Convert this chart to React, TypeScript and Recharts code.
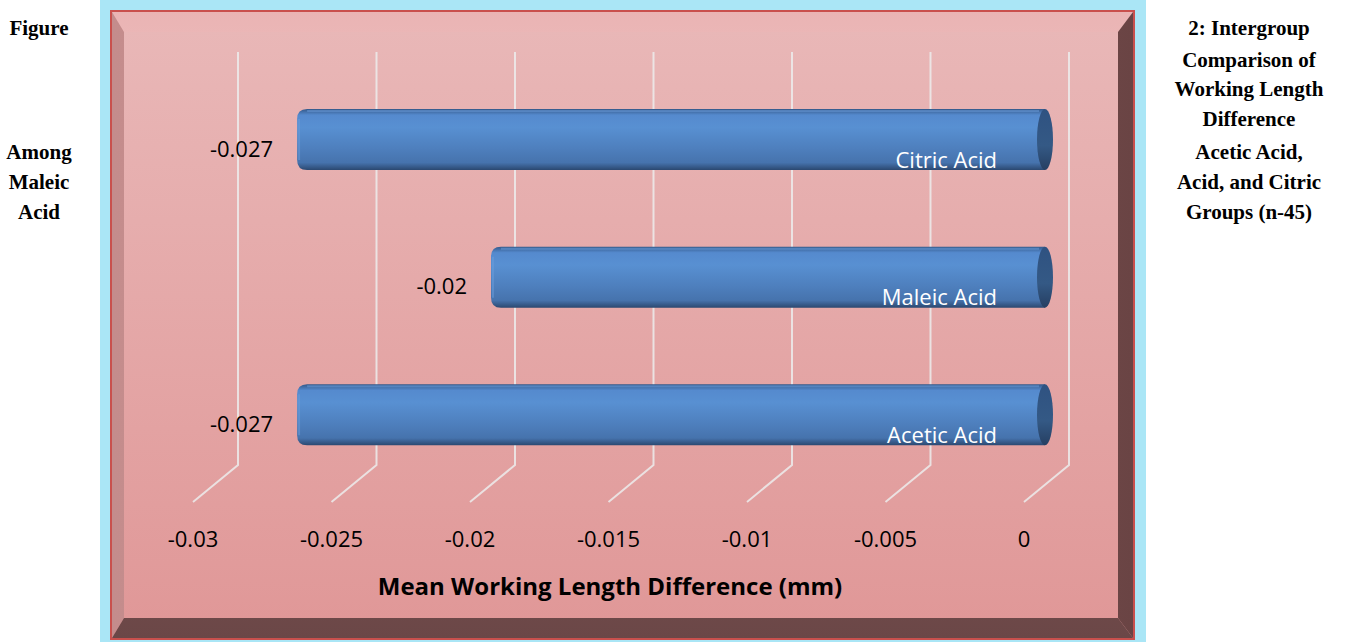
import React from 'react';
import { BarChart, Bar, XAxis, YAxis, CartesianGrid, LabelList } from 'recharts';

// data (top to bottom in the chart)
const categories = ['Citric Acid', 'Maleic Acid', 'Acetic Acid'];
const meanDiff = [-0.027, -0.02, -0.027];
const xTicks = [-0.03, -0.025, -0.02, -0.015, -0.01, -0.005, 0];

const leftCaption = ['Figure', '', '', '', 'Among', 'Maleic', 'Acid'];
const rightCaption = [
  '2: Intergroup',
  'Comparison of',
  'Working Length',
  'Difference',
  'Acetic Acid,',
  'Acid, and Citric',
  'Groups (n-45)',
];
const captionTops = [28, 60, 89, 119, 152, 182, 212];

const data = categories.map((name, i) => ({ name, value: meanDiff[i] }));

const W = 1348;
const H = 642;
const X_AXIS_H = 30;
const M = { top: 71, right: 303, bottom: 128, left: 214 };
const PLOT_BOTTOM = H - M.bottom - X_AXIS_H;
const FONT = '"Open Sans", "Liberation Sans", sans-serif';

function norm(p: any) {
  const x = Math.min(p.x, p.x + p.width);
  const w = Math.abs(p.width);
  const y = Math.min(p.y, p.y + p.height);
  const h = Math.abs(p.height);
  return { x, w, y, h };
}

function CylinderBar(props: any) {
  const { x, w, y, h } = norm(props);
  if (!w) return null;
  const r = 10;
  const right = x + w;
  const d = `M${x + r},${y} H${right} V${y + h} H${x + r} Q${x},${y + h} ${x},${y + h - r} V${y + r} Q${x},${y} ${x + r},${y} Z`;
  return (
    <g>
      <path d={d} fill="url(#barBody)" />
      <path
        d={`M${x + r},${y + 2} H${right - 6} M${x + 2},${y + r} V${y + h - r}`}
        stroke="#6b9ddb"
        strokeOpacity={0.5}
        strokeWidth={2}
        fill="none"
      />
      <ellipse cx={right} cy={y + h / 2} rx={8} ry={h / 2} fill="url(#barCap)" />
    </g>
  );
}

function ValueLabel(props: any) {
  const { x, y, h } = norm(props);
  return (
    <text
      x={x - 24}
      y={y + h / 2 + 8}
      textAnchor="end"
      dominantBaseline="central"
      fontFamily={FONT}
      fontSize={22}
      fill="#000"
    >
      {props.value}
    </text>
  );
}

function NameLabel(props: any) {
  const { x, w, y, h } = norm(props);
  return (
    <text
      x={x + w - 48}
      y={y + h / 2 + 19}
      textAnchor="end"
      dominantBaseline="central"
      fontFamily={FONT}
      fontSize={22}
      fill="#fff"
    >
      {props.value}
    </text>
  );
}

function AxisTick(props: any) {
  const { x, payload } = props;
  return (
    <text
      x={x - 21}
      y={PLOT_BOTTOM + 54}
      textAnchor="middle"
      dominantBaseline="central"
      fontFamily={FONT}
      fontSize={22}
      fill="#000"
    >
      {String(payload.value)}
    </text>
  );
}

// grid lines sit on the back wall, then bend forward along the floor
function GridLine(props: any) {
  const { x1, y1, y2 } = props;
  const bx = x1 + 24;
  return (
    <path
      key={props.key}
      d={`M${bx},${y1 - 19} V${y2 - 19} L${x1 - 21},${y2 + 18}`}
      stroke="#ececec"
      strokeOpacity={0.85}
      strokeWidth={2}
      fill="none"
    />
  );
}

const bevel = (clip: string, bg: string): React.CSSProperties => ({
  position: 'absolute',
  inset: 0,
  clipPath: clip,
  background: bg,
});

export default function App() {
  return (
    <div style={{ position: 'absolute', left: 0, top: 0, width: W, height: H, background: '#fff', overflow: 'hidden' }}>
      {/* light blue frame */}
      <div style={{ position: 'absolute', left: 100, top: 0, width: 1046, height: H, background: '#aae6f6' }} />
      {/* pink bevelled panel */}
      <div
        style={{
          position: 'absolute',
          left: 110,
          top: 10,
          width: 1021,
          height: 626,
          border: '2px solid #c9504d',
          background: 'linear-gradient(#e9b8b8, #e09797)',
        }}
      >
        <div style={bevel('polygon(0 0, 100% 0, calc(100% - 15px) 20px, 12px 20px)', 'linear-gradient(#eab4b4, #f6d4d4 55%, #ecbcbc)')} />
        <div style={bevel('polygon(0 0, 12px 20px, 12px calc(100% - 20px), 0 100%)', 'linear-gradient(90deg, #c48c8c, #dea6a6)')} />
        <div style={bevel('polygon(100% 0, 100% 100%, calc(100% - 15px) calc(100% - 20px), calc(100% - 15px) 20px)', 'linear-gradient(90deg, #b57c7c, #6a4444)')} />
        <div style={bevel('polygon(0 100%, 100% 100%, calc(100% - 15px) calc(100% - 20px), 12px calc(100% - 20px))', 'linear-gradient(#a87272, #6b4747)')} />
      </div>

      <div style={{ position: 'absolute', left: 0, top: 0 }}>
        <BarChart width={W} height={H} data={data} layout="vertical" margin={M} barSize={61}>
          <defs>
            <linearGradient id="barBody" x1="0" y1="0" x2="0" y2="1">
              <stop offset="0%" stopColor="#34598a" />
              <stop offset="10%" stopColor="#558ace" />
              <stop offset="30%" stopColor="#5890d2" />
              <stop offset="65%" stopColor="#4e7fbd" />
              <stop offset="88%" stopColor="#4673ad" />
              <stop offset="100%" stopColor="#2b4870" />
            </linearGradient>
            <linearGradient id="barCap" x1="0" y1="0" x2="0" y2="1">
              <stop offset="0%" stopColor="#2f5281" />
              <stop offset="60%" stopColor="#345985" />
              <stop offset="100%" stopColor="#263f62" />
            </linearGradient>
          </defs>
          <CartesianGrid horizontal={false} vertical={(p: any) => <GridLine {...p} />} />
          <XAxis
            type="number"
            domain={[-0.03, 0]}
            ticks={xTicks}
            axisLine={false}
            tickLine={false}
            tick={<AxisTick />}
            interval={0}
            height={X_AXIS_H}
          />
          <YAxis type="category" dataKey="name" hide width={0} />
          <Bar dataKey="value" shape={<CylinderBar />} isAnimationActive={false}>
            <LabelList dataKey="value" content={<ValueLabel />} />
            <LabelList dataKey="name" content={<NameLabel />} />
          </Bar>
        </BarChart>
      </div>

      <div
        style={{
          position: 'absolute',
          left: 110,
          width: 1000,
          top: 585,
          transform: 'translateY(-50%)',
          textAlign: 'center',
          fontFamily: FONT,
          fontWeight: 700,
          fontSize: 24,
          color: '#000',
          whiteSpace: 'nowrap',
        }}
      >
        Mean Working Length Difference (mm)
      </div>

      {leftCaption.map((t, i) =>
        t ? (
          <div key={'l' + i} style={captionStyle(39, captionTops[i])}>
            {t}
          </div>
        ) : null,
      )}
      {rightCaption.map((t, i) => (
        <div key={'r' + i} style={captionStyle(1249, captionTops[i])}>
          {t}
        </div>
      ))}
    </div>
  );
}

function captionStyle(cx: number, cy: number): React.CSSProperties {
  return {
    position: 'absolute',
    left: cx - 100,
    width: 200,
    top: cy,
    transform: 'translateY(-50%)',
    textAlign: 'center',
    fontFamily: '"Liberation Serif", "Times New Roman", serif',
    fontWeight: 700,
    fontSize: 21,
    lineHeight: '24px',
    color: '#000',
    whiteSpace: 'nowrap',
  };
}
